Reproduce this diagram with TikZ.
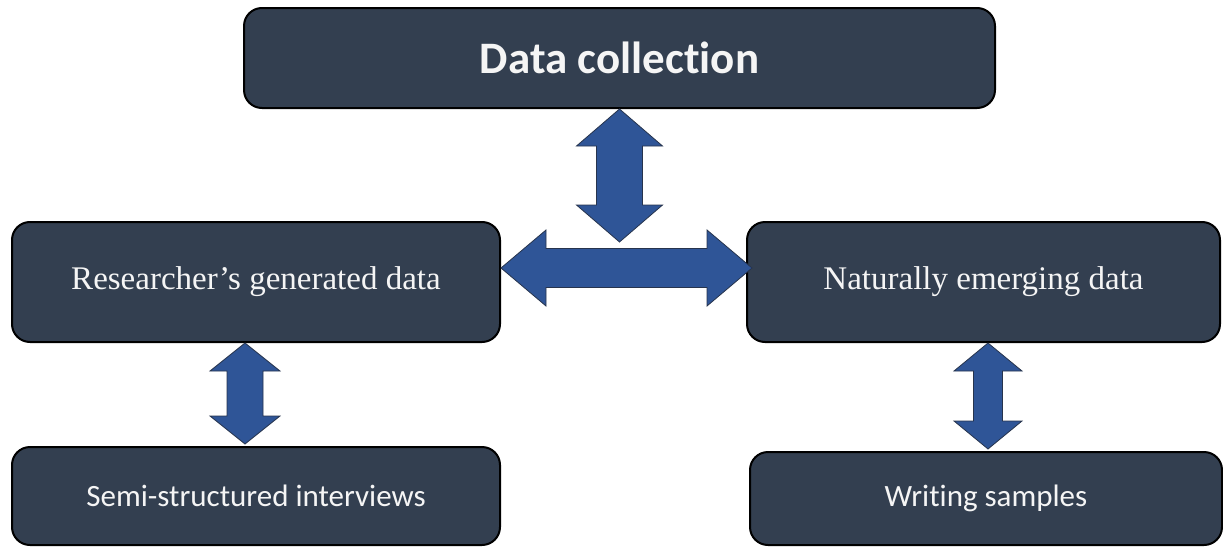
\documentclass[tikz,border=0pt]{standalone}
\usepackage{fontspec}
\usetikzlibrary{calc}
\newfontfamily\sansface[RawFeature=-liga]{Carlito}
\newfontfamily\serifface{Liberation Serif}
\definecolor{boxfill}{HTML}{333F50}
\definecolor{arrowfill}{HTML}{2F5597}
\definecolor{arrowline}{HTML}{27344D}

% Two-headed block arrow between two tips:
% #1, #2 tips; #3 shaft half-width; #4 head half-width; #5 head length
\newcommand\twowayarrow[5]{%
  \coordinate (ta) at (#1);
  \coordinate (tb) at (#2);
  \coordinate (ha) at ($(ta)!#5!(tb)$);
  \coordinate (hb) at ($(tb)!#5!(ta)$);
  \filldraw[blockarrow]
    (ta) -- ($(ha)!#4!90:(tb)$) -- ($(ha)!#3!90:(tb)$)
    -- ($(hb)!#3!-90:(ta)$) -- ($(hb)!#4!-90:(ta)$)
    -- (tb)
    -- ($(hb)!#4!90:(ta)$) -- ($(hb)!#3!90:(ta)$)
    -- ($(ha)!#3!-90:(tb)$) -- ($(ha)!#4!-90:(tb)$) -- cycle;
}

\tikzset{
  card/.style={draw=black, line width=2pt, fill=boxfill, rounded corners=18pt,
    text=white!96!black, inner sep=0pt, align=center},
  blockarrow/.style={fill=arrowfill, draw=arrowline, line width=0.8pt, line join=miter},
}

\begin{document}
\begin{tikzpicture}[x=1pt, y=-1pt]
  \useasboundingbox (0,0) rectangle (1223,546);

  % boxes
  \node[card, minimum width=751pt, minimum height=100pt,
        font=\sansface\bfseries\fontsize{45}{54}\selectfont]
    (top) at (619.5,58) {Data collection};
  \node[card, minimum width=488pt, minimum height=120pt,
        font=\serifface\fontsize{33}{40}\selectfont]
    (rgd) at (256,282) {Researcher’s generated data};
  \node[card, minimum width=473pt, minimum height=120pt,
        font=\serifface\fontsize{33}{40}\selectfont]
    (ned) at (983.5,282) {Naturally emerging data};
  \node[card, minimum width=488pt, minimum height=98pt,
        font=\sansface\fontsize{31}{38}\selectfont]
    (ssi) at (256,496) {Semi-structured interviews};
  \node[card, minimum width=472pt, minimum height=93pt,
        font=\sansface\fontsize{31}{38}\selectfont]
    (ws) at (986,498.5) {Writing samples};

  % free end of the vertical arrow under the title
  \coordinate (hub) at (619.5,242);

  % arrows
  \twowayarrow{top.south}{hub}{23pt}{43pt}{37pt}
  \twowayarrow{$(rgd.east)+(0,-14)$}{$(ned.west)+(6,-14)$}{19.5pt}{38pt}{45pt}
  \twowayarrow{$(rgd.south)+(-11,0)$}{$(ssi.north)+(-11,-2)$}{18pt}{35pt}{28pt}
  \twowayarrow{$(ned.south)+(4.5,0)$}{$(ws.north)+(2,-2)$}{14.5pt}{34pt}{28pt}
\end{tikzpicture}
\end{document}
